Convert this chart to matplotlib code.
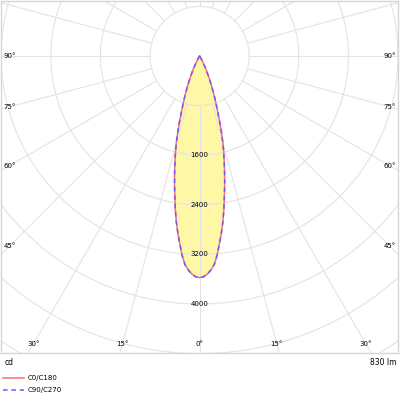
import numpy as np
import matplotlib.pyplot as plt

# luminous intensity (cd) vs gamma angle (deg), both planes
gamma = list(range(0, 33)) + [40, 45, 60, 75, 90]
c0_c180 = [3575, 3562, 3522, 3458, 3375, 3230, 3050, 2880, 2700, 2505, 2300,
           2120, 1940, 1770, 1610, 1450, 1280, 1110, 945, 815, 705,
           600, 505, 418, 340, 270, 205, 150, 100, 60, 30,
           12, 0, 0, 0, 0, 0, 0]
c90_c270 = [3575, 3562, 3522, 3458, 3375, 3230, 3050, 2880, 2700, 2505, 2300,
            2120, 1940, 1770, 1610, 1450, 1280, 1110, 945, 815, 705,
            600, 505, 418, 340, 270, 205, 150, 100, 60, 30,
            12, 0, 0, 0, 0, 0, 0]

rings = [800, 1600, 2400, 3200, 4000, 4800, 5600, 6400, 7200]
ring_labels = [1600, 2400, 3200, 4000]
angle_labels = [0, 15, 30, 45, 60, 75, 90]
flux_text = "830 lm"
unit_text = "cd"
series_names = ["C0/C180", "C90/C270"]

grid_col = "#e3e3e3"
red = "#ff7070"
blue = "#6a5cff"
fill_col = "#fdf7a6"
fs = 5


def full_curve(vals):
    g = np.radians(np.array(gamma))
    v = np.array(vals, dtype=float)
    # mirror: left half is the C180 / C270 plane
    ang = np.concatenate([-g[::-1], g[1:]])
    val = np.concatenate([v[::-1], v[1:]])
    return val * np.sin(ang), -val * np.cos(ang)


fig = plt.figure(figsize=(4, 4), dpi=100)
ax = fig.add_axes([0.003, 46 / 400, 0.992, 354 / 400])
ax.set_xlim(-3200, 3200)
ax.set_ylim(-4784, 880)
ax.set_aspect("equal")
ax.set_xticks([])
ax.set_yticks([])
for s in ax.spines.values():
    s.set_color("#d6d6d6")
    s.set_linewidth(1.0)

# fill
x0, y0 = full_curve(c0_c180)
ax.fill(x0, y0, color=fill_col, zorder=1, lw=0)

# grid
t = np.linspace(0, 2 * np.pi, 400)
for r in rings:
    ax.plot(r * np.cos(t), r * np.sin(t), color=grid_col, lw=0.8, zorder=2)
for a in range(0, 360, 15):
    ar = np.radians(a)
    ax.plot([800 * np.sin(ar), 9000 * np.sin(ar)], [-800 * np.cos(ar), -9000 * np.cos(ar)],
            color=grid_col, lw=0.8, zorder=2)

# curves
l1, = ax.plot(x0, y0, color=red, lw=1.1, zorder=3, label=series_names[0])
x1, y1 = full_curve(c90_c270)
l2, = ax.plot(x1, y1, color=blue, lw=1.1, ls=(0, (3, 2.5)), zorder=4, label=series_names[1])

# ring labels
for v in ring_labels:
    ax.text(0, -v, str(v), fontsize=fs, ha="center", va="center", zorder=5)

# angle labels on an inset frame
side = 3061
bottom = 4640
for a in angle_labels:
    ar = np.radians(a)
    rs = side / np.sin(ar) if a > 0 else np.inf
    rb = bottom / np.cos(ar) if a < 90 else np.inf
    r = min(rs, rb)
    px, py = r * np.sin(ar), -r * np.cos(ar)
    ax.text(px, py, f"{a}°", fontsize=fs, ha="center", va="center", zorder=5)
    if a > 0:
        ax.text(-px, py, f"{a}°", fontsize=fs, ha="center", va="center", zorder=5)

fig.text(5 / 400, 1 - 362.5 / 400, unit_text, fontsize=fs + 0.5, ha="left", va="center")
fig.text(396 / 400, 1 - 362.5 / 400, flux_text, fontsize=fs + 0.5, ha="right", va="center")

fig.legend(handles=[l1, l2], loc="upper left", bbox_to_anchor=(0.005, 1 - 374 / 400),
           frameon=False, fontsize=fs, handlelength=2.9, handletextpad=0.6,
           labelspacing=0.85, borderaxespad=0, borderpad=0.2)

fig.savefig("out.png", dpi=100, facecolor="white")
